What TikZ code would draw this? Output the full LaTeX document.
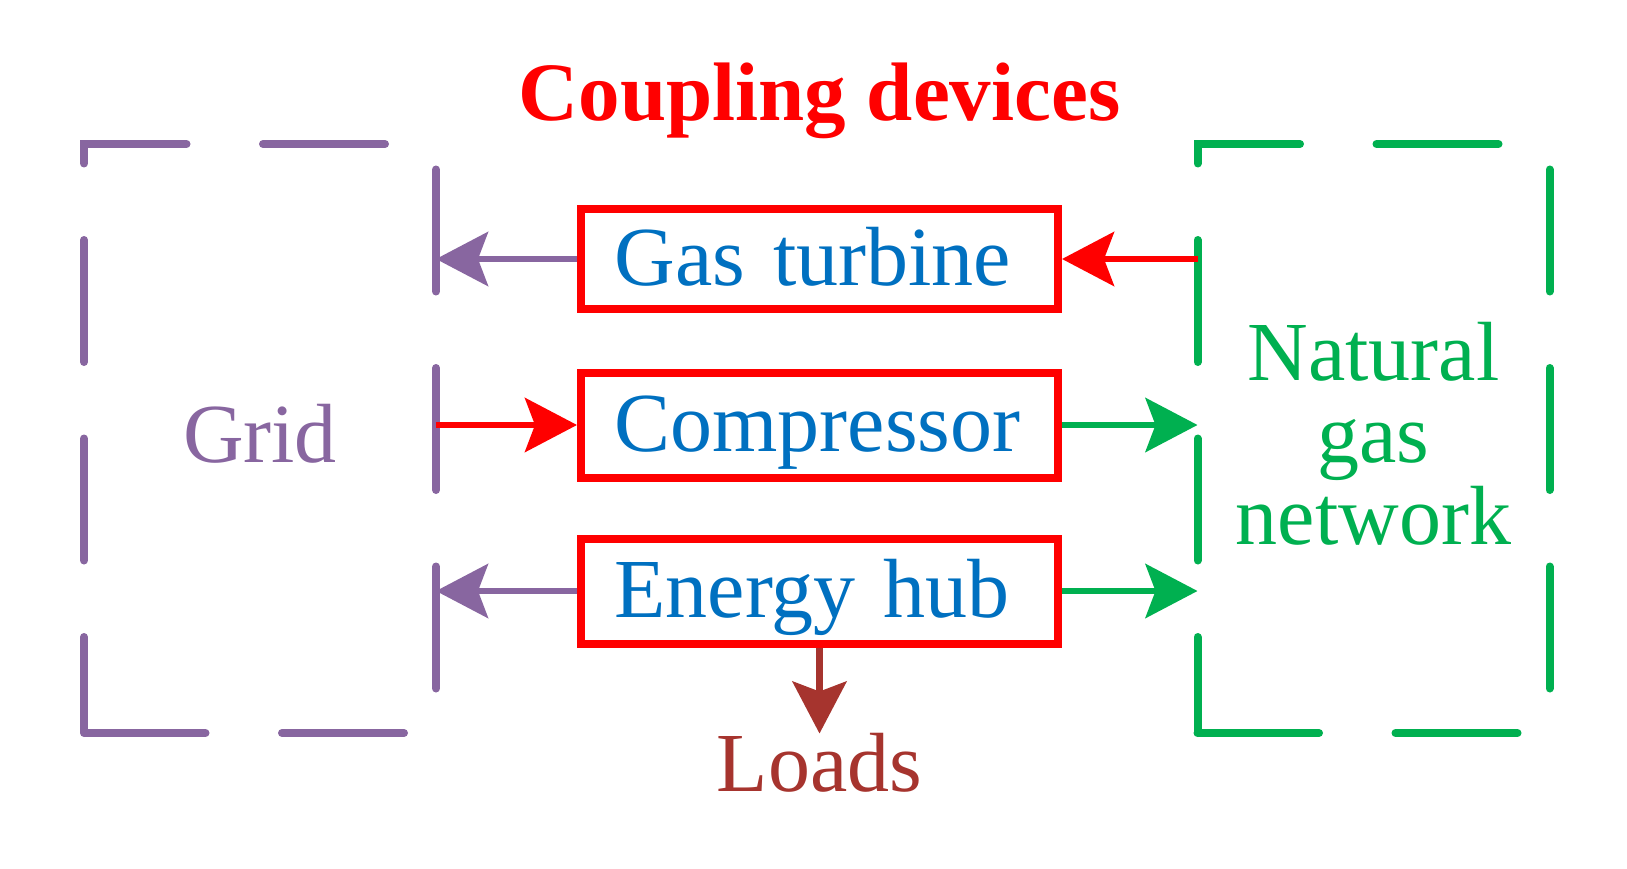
\documentclass[tikz,border=0pt]{standalone}
\usepackage{fontspec}
\setmainfont{Liberation Serif}
\usepackage{tikz}
\usetikzlibrary{arrows.meta,positioning}

\definecolor{gridpurple}{RGB}{136,102,160}
\definecolor{gasgreen}{RGB}{0,176,80}
\definecolor{labelblue}{RGB}{0,112,192}
\definecolor{loadbrown}{RGB}{166,52,46}

\begin{document}
\begin{tikzpicture}[x=1pt, y=-1pt, >={Stealth[length=52pt,width=54pt,inset=10pt]},
    font=\fontsize{84}{82}\selectfont, node distance=166pt,
    area/.style={inner sep=0pt, outer sep=0pt, minimum width=352pt, minimum height=589pt, align=center, text depth=10pt},
    outline/.style={line width=8pt, line cap=round, line join=miter, dash pattern=on 122pt off 76.5pt, dash phase=26pt},
    device/.style={draw=red, line width=8pt, text=labelblue, minimum width=477pt, minimum height=105pt,
        inner xsep=33.5pt, text width=410pt, align=left, text height=60pt, text depth=7pt},
    link/.style={line width=6.5pt}]
    \useasboundingbox (0,0) rectangle (1627,869);

    % Nodes {grid, ngn, gt, comp, hub, loads, title}
    \node [area, text=gridpurple]           (grid)  at (260,438.5)    {Grid};
    \node [area, text=gasgreen]             (ngn)   at (1373.5,438.5) {Natural\\gas\\network};
    \node [device, minimum height=100pt]    (gt)    at (819.5,259)    {Gas turbine};
    \node [device]                          (comp)  [below of=gt]     {Compressor};
    \node [device]                          (hub)   [below of=comp]   {Energy hub};
    \node [inner sep=0pt, text=loadbrown]   (loads) [below=86pt of hub] {Loads};
    \node [inner sep=0pt, text=red, font=\fontsize{83}{83}\selectfont\bfseries]
                                            (title) [above=66pt of gt] {Coupling devices};

    % Dashed borders
    \draw [outline, gridpurple] (grid.south west) -- (grid.north west) -- (grid.north east) -- (grid.south east) -- cycle;
    \draw [outline, gasgreen]   (ngn.south west) -- (ngn.north west) -- (ngn.north east) -- (ngn.south east) -- cycle;

    % Paths
    \path [->, link, gridpurple] (gt.west)  edge (gt.west -| grid.east);
    \path [->, link, red]        (gt.east -| ngn.west) edge (gt.east);
    \path [->, link, red]        (comp.west -| grid.east) edge (comp.west);
    \path [->, link, gasgreen]   (comp.east) edge (comp.east -| ngn.west);
    \path [->, link, gridpurple] (hub.west) edge (hub.west -| grid.east);
    \path [->, link, gasgreen]   (hub.east) edge (hub.east -| ngn.west);
    \path [->, link, loadbrown]  (hub.south) edge (loads.north);

\end{tikzpicture}
\end{document}
